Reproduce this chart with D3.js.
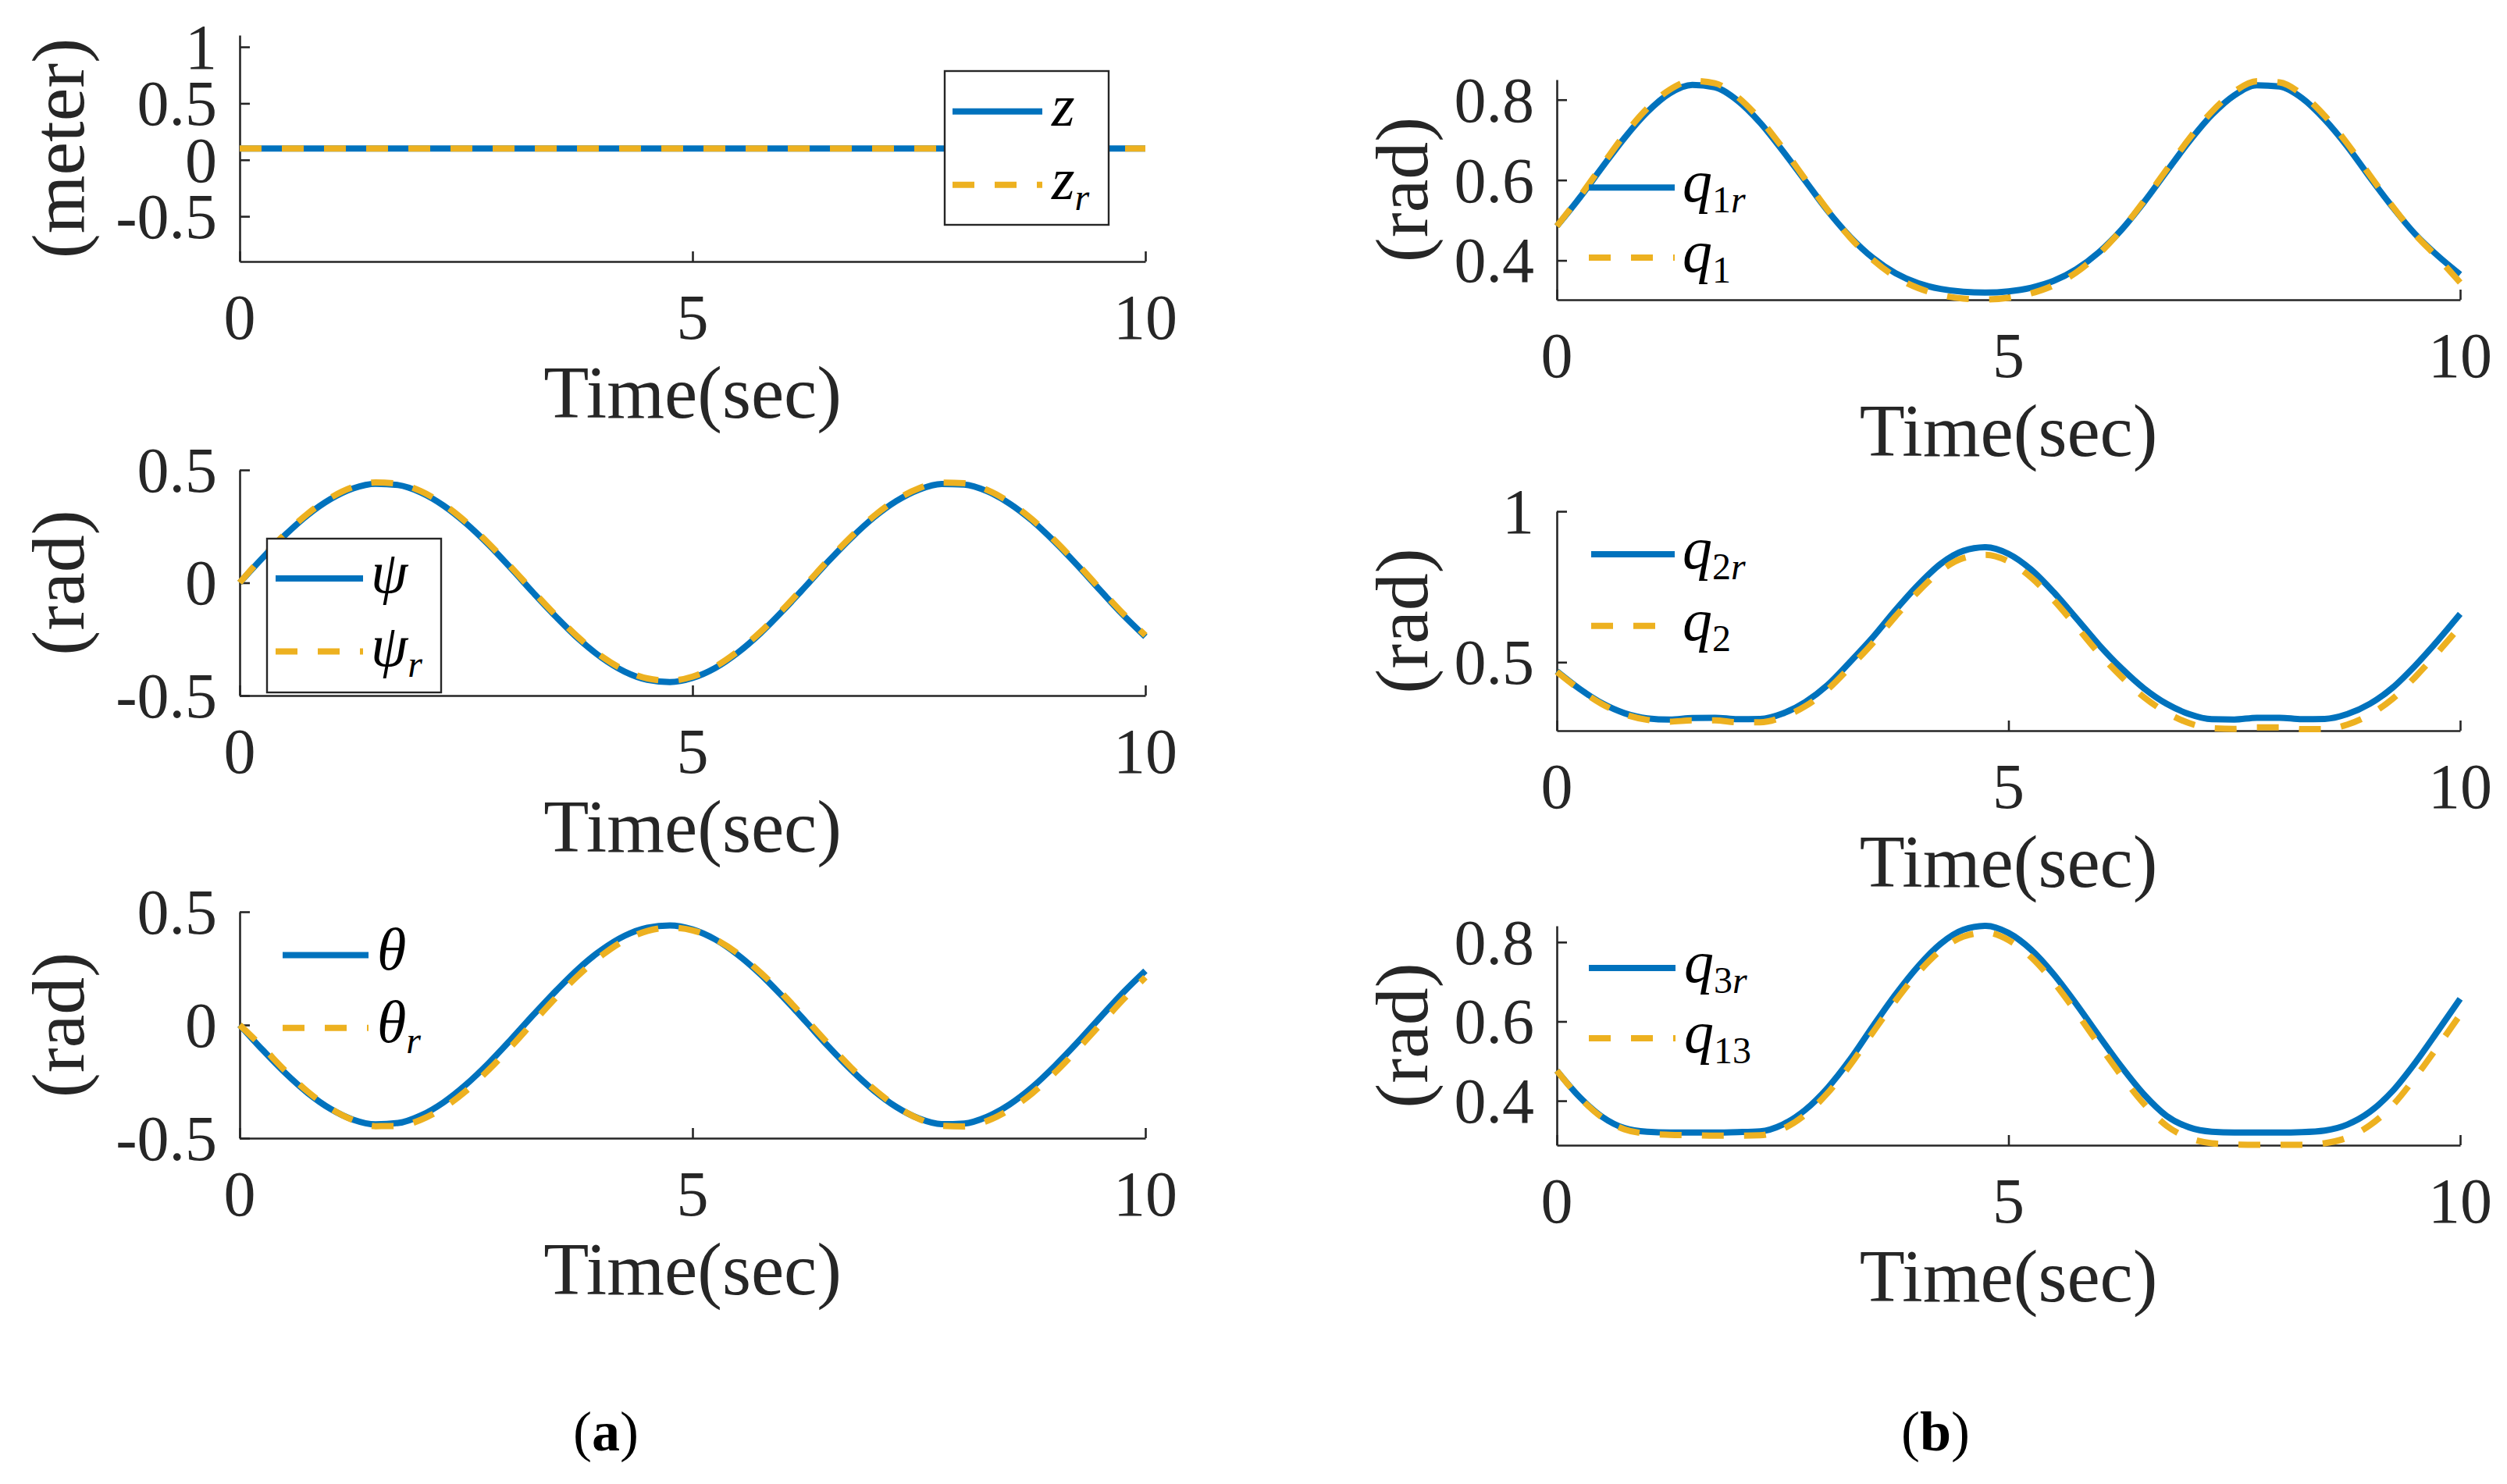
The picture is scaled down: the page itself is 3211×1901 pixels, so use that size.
<!DOCTYPE html>
<html><head><meta charset="utf-8">
<script src="https://cdn.jsdelivr.net/npm/d3@7"></script>
<style>
body{margin:0;background:#fff}
svg text{font-family:"Liberation Serif","Times New Roman",serif}
</style>
</head><body>
<svg id="c" width="3211" height="1901"></svg>
<script>
// ---------------- data ----------------
const timeSec = [0,0.25,0.5,0.75,1,1.25,1.5,1.75,2,2.25,2.5,2.75,3,3.25,3.5,3.75,4,4.25,4.5,4.75,5,5.25,5.5,5.75,6,6.25,6.5,6.75,7,7.25,7.5,7.75,8,8.25,8.5,8.75,9,9.25,9.5,9.75,10];
const xTicks = [0,5,10];
const xTickLabels = ["0","5","10"];

const zVal = [0.1,0.1,0.1,0.1,0.1,0.1,0.1,0.1,0.1,0.1,0.1,0.1,0.1,0.1,0.1,0.1,0.1,0.1,0.1,0.1,0.1,0.1,0.1,0.1,0.1,0.1,0.1,0.1,0.1,0.1,0.1,0.1,0.1,0.1,0.1,0.1,0.1,0.1,0.1,0.1,0.1];
const zRef = [0.1,0.1,0.1,0.1,0.1,0.1,0.1,0.1,0.1,0.1,0.1,0.1,0.1,0.1,0.1,0.1,0.1,0.1,0.1,0.1,0.1,0.1,0.1,0.1,0.1,0.1,0.1,0.1,0.1,0.1,0.1,0.1,0.1,0.1,0.1,0.1,0.1,0.1,0.1,0.1,0.1];

const psiVal = [0,0.109,0.211,0.300,0.370,0.418,0.439,0.433,0.400,0.342,0.263,0.168,0.062,-0.048,-0.154,-0.252,-0.333,-0.394,-0.430,-0.440,-0.422,-0.378,-0.310,-0.224,-0.123,-0.015,0.095,0.198,0.289,0.362,0.413,0.438,0.435,0.406,0.351,0.275,0.181,0.077,-0.033,-0.141,-0.239];
const psiRef = [0,0.114,0.216,0.306,0.376,0.424,0.445,0.439,0.406,0.348,0.269,0.174,0.068,-0.042,-0.148,-0.246,-0.327,-0.388,-0.424,-0.434,-0.416,-0.372,-0.304,-0.218,-0.117,-0.009,0.101,0.204,0.295,0.368,0.419,0.444,0.441,0.412,0.357,0.281,0.187,0.083,-0.027,-0.135,-0.233];

const thetaVal = [0,-0.109,-0.211,-0.300,-0.370,-0.418,-0.439,-0.433,-0.400,-0.342,-0.263,-0.168,-0.062,0.048,0.154,0.252,0.333,0.394,0.430,0.440,0.422,0.378,0.310,0.224,0.123,0.015,-0.095,-0.198,-0.289,-0.362,-0.413,-0.438,-0.435,-0.406,-0.351,-0.275,-0.181,-0.077,0.033,0.141,0.239];
const thetaRef = [0,-0.097,-0.201,-0.294,-0.368,-0.420,-0.447,-0.446,-0.419,-0.366,-0.291,-0.198,-0.094,0.016,0.124,0.223,0.308,0.374,0.415,0.430,0.418,0.379,0.316,0.232,0.134,0.027,-0.083,-0.188,-0.282,-0.359,-0.415,-0.445,-0.448,-0.424,-0.374,-0.302,-0.211,-0.108,0.001,0.110,0.211];

const q1Ref = [0.485,0.555,0.631,0.705,0.769,0.816,0.837,0.831,0.798,0.743,0.673,0.598,0.523,0.458,0.406,0.368,0.343,0.329,0.322,0.320,0.323,0.332,0.349,0.378,0.420,0.476,0.545,0.621,0.696,0.762,0.811,0.836,0.833,0.804,0.751,0.684,0.607,0.533,0.466,0.412,0.365];
const q1Val = [0.485,0.558,0.636,0.713,0.778,0.825,0.847,0.841,0.807,0.751,0.680,0.602,0.525,0.456,0.401,0.359,0.331,0.314,0.305,0.303,0.307,0.318,0.338,0.370,0.416,0.476,0.548,0.626,0.703,0.770,0.820,0.846,0.843,0.813,0.760,0.691,0.612,0.535,0.465,0.407,0.345];

const q2Ref = [0.470,0.412,0.364,0.331,0.314,0.310,0.315,0.316,0.311,0.312,0.330,0.368,0.425,0.502,0.583,0.673,0.756,0.826,0.869,0.881,0.859,0.807,0.732,0.646,0.558,0.480,0.413,0.362,0.328,0.311,0.310,0.316,0.316,0.311,0.312,0.328,0.362,0.415,0.488,0.571,0.660];
const q2Val = [0.468,0.410,0.361,0.327,0.309,0.303,0.307,0.307,0.301,0.301,0.318,0.354,0.410,0.485,0.564,0.652,0.734,0.803,0.845,0.856,0.834,0.781,0.706,0.619,0.530,0.452,0.384,0.333,0.298,0.281,0.279,0.284,0.284,0.278,0.278,0.293,0.326,0.378,0.450,0.532,0.618];

const q3Ref = [0.476,0.410,0.360,0.331,0.322,0.320,0.320,0.320,0.321,0.323,0.340,0.377,0.433,0.505,0.588,0.668,0.739,0.796,0.831,0.841,0.823,0.781,0.719,0.644,0.564,0.486,0.416,0.362,0.333,0.322,0.320,0.320,0.320,0.321,0.325,0.340,0.372,0.424,0.495,0.575,0.657];
const q13Val = [0.476,0.409,0.358,0.328,0.317,0.314,0.313,0.312,0.312,0.313,0.329,0.365,0.420,0.491,0.573,0.652,0.723,0.779,0.814,0.824,0.805,0.762,0.699,0.623,0.542,0.463,0.392,0.337,0.306,0.293,0.290,0.289,0.289,0.289,0.293,0.307,0.338,0.388,0.458,0.536,0.617];

const yTicksA1 = [-0.5,0,0.5,1], yTickLabelsA1 = ["-0.5","0","0.5","1"];
const yTicksA2 = [-0.5,0,0.5], yTickLabelsA2 = ["-0.5","0","0.5"];
const yTicksB1 = [0.4,0.6,0.8], yTickLabelsB1 = ["0.4","0.6","0.8"];
const yTicksB2 = [0.5,1], yTickLabelsB2 = ["0.5","1"];

// ---------------- layout ----------------
const BLUE = "#0072BD", YEL = "#EDB120", AX = "#262626";
const panels = [
  {x0:307,x1:1467,y0:45,y1:335,dom:[-0.9,1.104],ticks:yTicksA1,tl:yTickLabelsA1,ylab:"(meter)",ylx:107,
   s1:zVal,s2:zRef,leg:{box:[1210,91,1420,288],lx:[1220,1335],ly:[142.7,236.7],tx:1347,
   lab:[[{t:"z",i:1}],[{t:"z",i:1},{t:"r",i:1,s:1}]]}},
  {x0:307,x1:1467,y0:602,y1:891,dom:[-0.5,0.5],ticks:yTicksA2,tl:yTickLabelsA2,ylab:"(rad)",ylx:107,
   s1:psiVal,s2:psiRef,leg:{box:[342,690,565,887],lx:[353,465],ly:[741,834.6],tx:475,
   lab:[[{t:"ψ",i:1}],[{t:"ψ",i:1},{t:"r",i:1,s:1}]]}},
  {x0:307,x1:1467,y0:1168,y1:1458,dom:[-0.5,0.5],ticks:yTicksA2,tl:yTickLabelsA2,ylab:"(rad)",ylx:107,
   s1:thetaVal,s2:thetaRef,leg:{lx:[362,472],ly:[1223.5,1316.8],tx:483,
   lab:[[{t:"θ",i:1}],[{t:"θ",i:1},{t:"r",i:1,s:1}]]}},
  {x0:1994,x1:3151,y0:102,y1:384,dom:[0.302,0.85],ticks:yTicksB1,tl:yTickLabelsB1,ylab:"(rad)",ylx:1828,
   s1:q1Ref,s2:q1Val,leg:{lx:[2035,2145],ly:[240.3,330],tx:2155,
   lab:[[{t:"q",i:1},{t:"1",s:1},{t:"r",i:1,s:1}],[{t:"q",i:1},{t:"1",s:1}]]}},
  {x0:1994,x1:3151,y0:655,y1:936,dom:[0.273,1.0],ticks:yTicksB2,tl:yTickLabelsB2,ylab:"(rad)",ylx:1828,
   s1:q2Ref,s2:q2Val,leg:{lx:[2038,2145],ly:[710,801.7],tx:2155,
   lab:[[{t:"q",i:1},{t:"2",s:1},{t:"r",i:1,s:1}],[{t:"q",i:1},{t:"2",s:1}]]}},
  {x0:1994,x1:3151,y0:1186,y1:1467,dom:[0.288,0.841],ticks:yTicksB1,tl:yTickLabelsB1,ylab:"(rad)",ylx:1828,
   s1:q3Ref,s2:q13Val,leg:{lx:[2035,2146],ly:[1240,1330],tx:2157,
   lab:[[{t:"q",i:1},{t:"3",s:1},{t:"r",i:1,s:1}],[{t:"q",i:1},{t:"13",s:1}]]}}
];

const svg = d3.select("#c");
svg.append("rect").attr("width",3211).attr("height",1901).attr("fill","#fff");

panels.forEach(p => {
  const g = svg.append("g");
  const x = d3.scaleLinear().domain([0,10]).range([p.x0,p.x1]);
  const y = d3.scaleLinear().domain(p.dom).range([p.y1,p.y0]);

  // axes (ticks inward, box off)
  const ax = g.append("g").attr("transform",`translate(0,${p.y1})`)
    .call(d3.axisBottom(x).tickValues(xTicks).tickSize(-13).tickSizeOuter(0).tickFormat(""));
  const ay = g.append("g").attr("transform",`translate(${p.x0},0)`)
    .call(d3.axisLeft(y).tickValues(p.ticks).tickSize(-13).tickSizeOuter(0).tickFormat(""));
  [ax,ay].forEach(a=>{a.selectAll("path,line").attr("stroke",AX).attr("stroke-width",2.6);});

  // tick labels
  g.selectAll(null).data(xTicks).join("text")
    .attr("x",d=>x(d)).attr("y",p.y1+99).attr("text-anchor","middle")
    .attr("font-size",82).attr("fill",AX).text((d,i)=>xTickLabels[i]);
  g.selectAll(null).data(p.ticks).join("text")
    .attr("x",p.x0-29).attr("y",d=>y(d)).attr("dy","0.34em").attr("text-anchor","end")
    .attr("font-size",82).attr("fill",AX).text((d,i)=>p.tl[i]);

  // axis labels
  g.append("text").attr("x",(p.x0+p.x1)/2).attr("y",p.y1+200).attr("text-anchor","middle")
    .attr("font-size",95).attr("fill",AX).text("Time(sec)");
  g.append("text").attr("transform",`translate(${p.ylx},${(p.y0+p.y1)/2}) rotate(-90)`)
    .attr("text-anchor","middle").attr("font-size",96).attr("fill",AX).text(p.ylab);

  // data lines
  const line = d3.line().x(d=>x(d[0])).y(d=>y(d[1])).curve(d3.curveMonotoneX);
  g.append("path").datum(d3.zip(timeSec,p.s1)).attr("d",line)
    .attr("fill","none").attr("stroke",BLUE).attr("stroke-width",8);
  g.append("path").datum(d3.zip(timeSec,p.s2)).attr("d",line)
    .attr("fill","none").attr("stroke",YEL).attr("stroke-width",8).attr("stroke-dasharray","28,26");

  // legend
  const L = p.leg;
  if (L.box) {
    g.append("rect").attr("x",L.box[0]).attr("y",L.box[1])
      .attr("width",L.box[2]-L.box[0]).attr("height",L.box[3]-L.box[1])
      .attr("fill","#fff").attr("stroke",AX).attr("stroke-width",2.4);
  }
  [BLUE,YEL].forEach((c,k)=>{
    g.append("line").attr("x1",L.lx[0]).attr("x2",L.lx[1]).attr("y1",L.ly[k]).attr("y2",L.ly[k])
      .attr("stroke",c).attr("stroke-width",8).attr("stroke-dasharray",k? "28,26":null);
    const t = g.append("text").attr("x",L.tx).attr("y",L.ly[k]+18).attr("font-size",76).attr("fill","#000");
    let inSub=false;
    L.lab[k].forEach(part=>{
      const ts = t.append("tspan").text(part.t).attr("font-style",part.i?"italic":"normal");
      if (part.s) { ts.attr("font-size",48); if(!inSub){ts.attr("dy",14); inSub=true;} }
    });
  });
});

// captions
[["a",776],["b",2479]].forEach(([c,cx])=>{
  const t = svg.append("text").attr("x",cx).attr("y",1858).attr("text-anchor","middle")
    .attr("font-size",72).attr("fill","#000");
  t.append("tspan").text("(");
  t.append("tspan").attr("font-weight","bold").text(c);
  t.append("tspan").text(")");
});
</script>
</body></html>
